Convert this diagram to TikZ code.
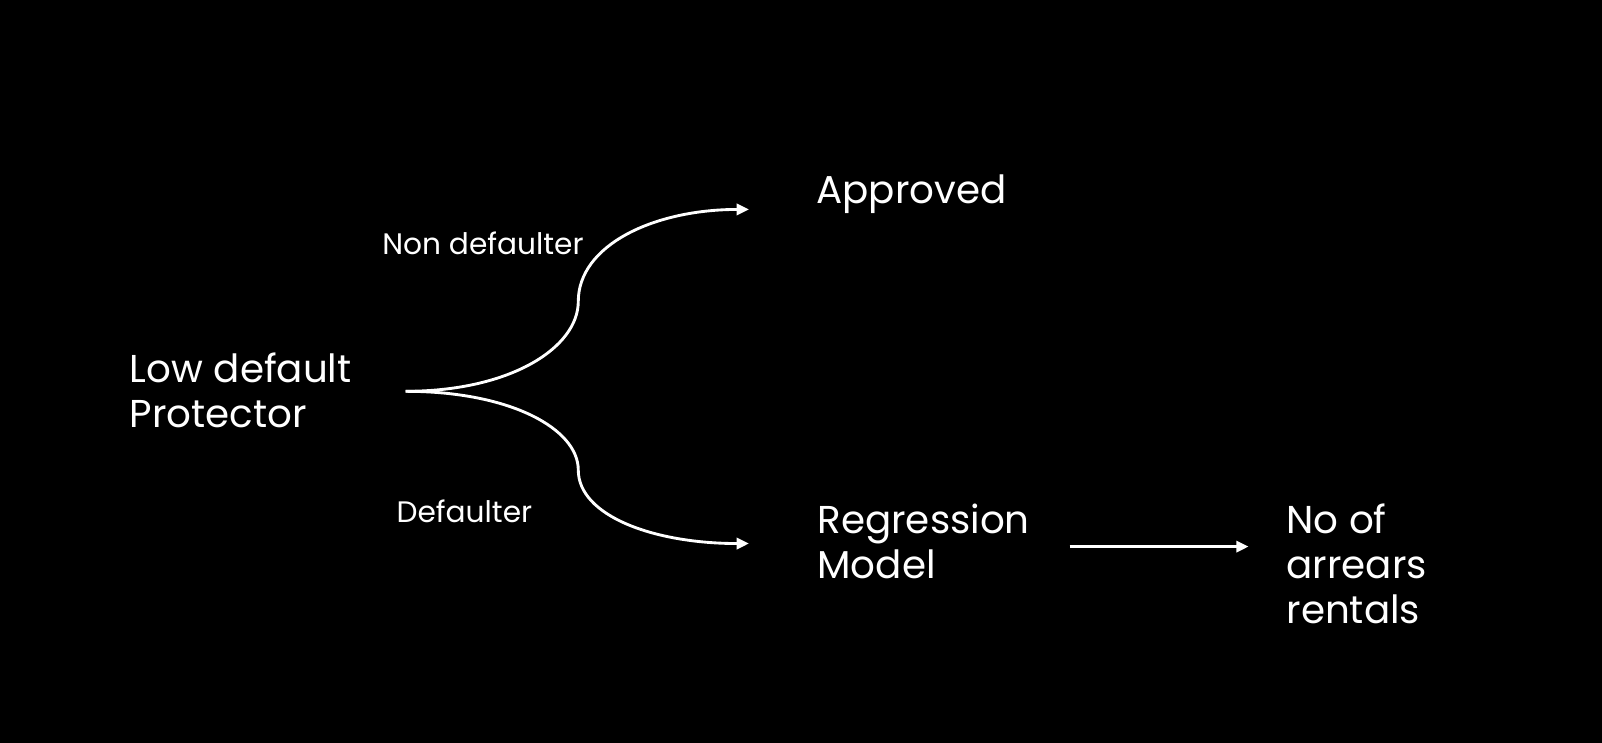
\documentclass[tikz,border=0pt]{standalone}
\usepackage{fontspec}
\setmainfont{Poppins}
\usetikzlibrary{arrows.meta}
\begin{document}
\begin{tikzpicture}[x=1pt,y=-1pt,
  big/.style={text=white,font=\fontsize{38}{44}\selectfont,inner sep=0pt,anchor=base west,align=left},
  small/.style={text=white,font=\fontsize{29}{34}\selectfont,inner sep=0pt,anchor=base west},
  conn/.style={draw=white,line width=2.8pt,-{Triangle[length=12pt,width=11pt]}}]
\fill[black] (0,0) rectangle (1568,727.2);
\useasboundingbox (0,0) rectangle (1568,727.2);
\node[big] (lowp) at (127,418) {Low default\\Protector};
\node[big] (appr) at (799,199) {Approved};
\node[big] (regr) at (800,566) {Regression\\Model};
\node[big] (arr) at (1259,610) {No of\\arrears\\rentals};
\node[small] (nond) at (374,249) {Non defaulter};
\node[small] (def) at (388,511) {Defaulter};
\coordinate (fork) at (397,383);
\coordinate (apin) at (733,205);
\coordinate (rgin) at (733,532);
\coordinate (rgout) at (1047,535);
\coordinate (arin) at (1222,535);
\draw[conn] (fork) .. controls (500,383) and (566,340) .. (566,295) .. controls (566,240) and (640,205) .. (apin);
\draw[conn] (fork) .. controls (500,383) and (566,420) .. (566,460) .. controls (566,505) and (640,532) .. (rgin);
\draw[conn] (rgout) -- (arin);
\end{tikzpicture}
\end{document}
